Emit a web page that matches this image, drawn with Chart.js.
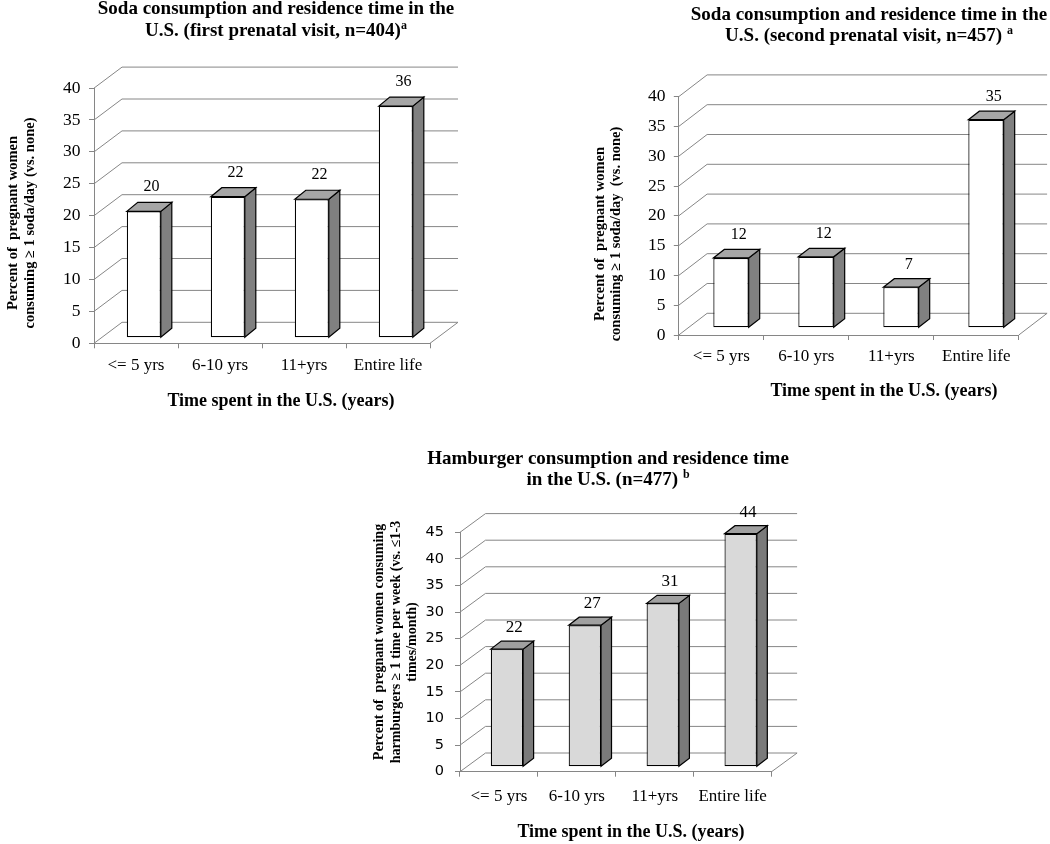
<!DOCTYPE html>
<html>
<head>
<meta charset="utf-8">
<script src="https://cdn.jsdelivr.net/npm/chart.js@4/dist/chart.umd.min.js"></script>
<style>
  html, body { margin: 0; padding: 0; background: #fff; overflow: hidden; width: 1050px; height: 844px; }
  canvas { position: absolute; }
</style>
</head>
<body>
<canvas id="c1" width="480" height="420" style="left:0px;top:0px;width:480px;height:420px"></canvas>
<canvas id="c2" width="470" height="410" style="left:580px;top:0px;width:470px;height:410px"></canvas>
<canvas id="c3" width="460" height="404" style="left:360px;top:440px;width:460px;height:404px"></canvas>
<script>
// ---------- data ----------
const CATEGORIES = ['<= 5 yrs', '6-10 yrs', '11+yrs', 'Entire life'];
const SODA_FIRST_VISIT = [19.8, 22.1, 21.7, 36.3];
const SODA_SECOND_VISIT = [11.7, 11.9, 6.8, 34.9];
const HAMBURGER = [22.1, 26.6, 30.7, 43.8];
const Y_MAX_SODA = 40;
const Y_MAX_HAMBURGER = 45;
const Y_STEP = 5;

const TITLE_1 = ['Soda consumption and residence time in the', 'U.S. (first prenatal visit, n=404)'];
const TITLE_1_SUP = 'a';
const TITLE_2 = ['Soda consumption and residence time in the', 'U.S. (second prenatal visit, n=457) '];
const TITLE_2_SUP = 'a';
const TITLE_3 = ['Hamburger consumption and residence time', 'in the U.S. (n=477) '];
const TITLE_3_SUP = 'b';
const Y_TITLE_1 = ['Percent of  pregnant women', 'consuming \u2265 1 soda/day (vs. none)'];
const Y_TITLE_2 = ['Percent of  pregnant women', 'consuming \u2265 1 soda/day  (vs. none)'];
const Y_TITLE_3 = ['Percent of  pregnant women consuming', 'harmburgers \u2265 1 time per week (vs. \u22641-3', 'times/month)'];
const X_TITLE = 'Time spent in the U.S. (years)';

// ---------- styles ----------
const SERIF = '"Liberation Serif", "Times New Roman", serif';
const SANS = '"DejaVu Sans", Verdana, sans-serif';
const GRID = '#868686';

// 3D walls, bar side/top faces and value labels
const threeD = {
  id: 'threeD',
  beforeDatasetsDraw(chart, args, o) {
    const { ctx, chartArea: a, scales: { y } } = chart;
    ctx.save();
    ctx.strokeStyle = GRID;
    ctx.lineWidth = 1;
    ctx.beginPath();
    y.ticks.forEach(t => {
      const py = y.getPixelForValue(t.value);
      ctx.moveTo(a.left, py);
      ctx.lineTo(a.left + o.wallDx, py + o.wallDy);
      ctx.lineTo(a.right + o.wallDx, py + o.wallDy);
    });
    const y0 = y.getPixelForValue(0);
    ctx.moveTo(a.right, y0);
    ctx.lineTo(a.right + o.wallDx, y0 + o.wallDy);
    ctx.stroke();
    ctx.restore();
    ctx.save();
    ctx.translate(o.barDx, o.barDy);
  },
  afterDatasetsDraw(chart, args, o) {
    const { ctx } = chart;
    const meta = chart.getDatasetMeta(0);
    const values = chart.data.datasets[0].data;
    meta.data.forEach((bar, i) => {
      const { x, y, base, width } = bar.getProps(['x', 'y', 'base', 'width'], true);
      const L = x - width / 2, R = x + width / 2;
      ctx.lineWidth = 1.2;
      ctx.strokeStyle = '#000';
      // side face
      ctx.beginPath();
      ctx.moveTo(R, y);
      ctx.lineTo(R + o.depthX, y + o.depthY);
      ctx.lineTo(R + o.depthX, base + o.depthY);
      ctx.lineTo(R, base);
      ctx.closePath();
      ctx.fillStyle = o.sideColor;
      ctx.fill();
      ctx.stroke();
      // top face
      ctx.beginPath();
      ctx.moveTo(L, y);
      ctx.lineTo(L + o.depthX, y + o.depthY);
      ctx.lineTo(R + o.depthX, y + o.depthY);
      ctx.lineTo(R, y);
      ctx.closePath();
      ctx.fillStyle = o.topColor;
      ctx.fill();
      ctx.stroke();
      // value label
      ctx.fillStyle = '#000';
      ctx.font = o.labelFont;
      ctx.textAlign = 'center';
      ctx.textBaseline = 'alphabetic';
      ctx.fillText(String(Math.round(values[i])), x + o.depthX * 0.7, y + o.depthY - o.labelGap);
    });
    ctx.restore();
  }
};

// chart title, axis titles
const texts = {
  id: 'texts',
  afterDraw(chart, args, o) {
    const ctx = chart.ctx;
    ctx.save();
    ctx.fillStyle = '#000';
    ctx.textBaseline = 'alphabetic';
    // plot title
    const t = o.title;
    t.lines.forEach((line, i) => {
      const mainFont = `bold ${t.size}px ${SERIF}`;
      const supFont = `bold ${t.supSize}px ${SERIF}`;
      ctx.font = mainFont;
      const w = ctx.measureText(line).width;
      const last = i === t.lines.length - 1 && t.sup;
      let sw = 0;
      if (last) { ctx.font = supFont; sw = ctx.measureText(t.sup).width; }
      const start = t.x - (w + sw) / 2;
      ctx.textAlign = 'left';
      ctx.font = mainFont;
      ctx.fillText(line, start, t.y[i]);
      if (last) { ctx.font = supFont; ctx.fillText(t.sup, start + w, t.y[i] - t.supRaise); }
    });
    // y title (rotated)
    const yt = o.yTitle;
    ctx.font = `bold ${yt.size}px ${SERIF}`;
    ctx.textAlign = 'center';
    yt.lines.forEach((line, i) => {
      ctx.save();
      ctx.translate(yt.x[i], yt.cy);
      ctx.rotate(-Math.PI / 2);
      ctx.fillText(line, 0, 0);
      ctx.restore();
    });
    // x title
    const xt = o.xTitle;
    ctx.font = `bold ${xt.size}px ${SERIF}`;
    ctx.textAlign = 'center';
    ctx.fillText(xt.text, xt.x, xt.y);
    ctx.restore();
  }
};

function makeChart(id, c) {
  return new Chart(document.getElementById(id), {
    type: 'bar',
    data: {
      labels: CATEGORIES,
      datasets: [{
        data: c.values,
        backgroundColor: c.front,
        borderColor: '#000',
        borderWidth: 1.2,
        borderSkipped: false,
        barPercentage: c.barPct,
        categoryPercentage: 1
      }]
    },
    options: {
      responsive: false,
      animation: false,
      events: [],
      layout: { padding: c.padding },
      scales: {
        x: {
          offset: true,
          grid: { display: true, offset: true, drawOnChartArea: false, drawTicks: true, tickLength: 5, color: GRID },
          border: { display: true, color: GRID, width: 1 },
          ticks: { color: '#000', font: c.xFont, padding: c.xPad, maxRotation: 0, autoSkip: false },
          afterFit: s => { s.height = 40; }
        },
        y: {
          min: 0,
          max: c.max,
          ticks: { stepSize: Y_STEP, color: '#000', font: c.yFont, padding: c.yPad },
          grid: { display: true, drawOnChartArea: false, drawTicks: true, tickLength: 5, color: GRID },
          border: { display: true, color: GRID, width: 1 },
          afterFit: s => { s.width = c.axisX; }
        }
      },
      plugins: {
        legend: { display: false },
        tooltip: { enabled: false },
        threeD: c.threeD,
        texts: c.texts
      }
    },
    plugins: [threeD, texts]
  });
}

// Chart 1: first prenatal visit
makeChart('c1', {
  values: SODA_FIRST_VISIT, max: Y_MAX_SODA, front: '#ffffff', barPct: 0.405,
  axisX: 94,
  padding: { left: 0, top: 88.1, right: 50, bottom: 36.7 },
  xFont: { family: SERIF, size: 17, lineHeight: 1.2 }, xPad: 7,
  yFont: { family: SERIF, size: 17.5, lineHeight: 1.2 }, yPad: 8.5,
  threeD: { wallDx: 28, wallDy: -21, barDx: 7.8, barDy: -5.6, depthX: 11, depthY: -9,
            sideColor: '#808080', topColor: '#a6a6a6', labelFont: `16px ${SERIF}`, labelGap: 11 },
  texts: {
    title: { lines: TITLE_1, sup: TITLE_1_SUP, size: 19, supSize: 12, supRaise: 7, x: 276, y: [14, 35.7] },
    yTitle: { lines: Y_TITLE_1, size: 14.5, x: [17, 33.5], cy: 223 },
    xTitle: { text: X_TITLE, size: 18, x: 281, y: 406 }
  }
});

// Chart 2: second prenatal visit
makeChart('c2', {
  values: SODA_SECOND_VISIT, max: Y_MAX_SODA, front: '#ffffff', barPct: 0.416,
  axisX: 98.8,
  padding: { left: 0, top: 96.6, right: 31.2, bottom: 35 },
  xFont: { family: SERIF, size: 17, lineHeight: 1.2 }, xPad: 6,
  yFont: { family: SERIF, size: 17.5, lineHeight: 1.2 }, yPad: 8.3,
  threeD: { wallDx: 28.3, wallDy: -21.7, barDx: 9.7, barDy: -7.3, depthX: 11, depthY: -8.5,
            sideColor: '#808080', topColor: '#a6a6a6', labelFont: `16px ${SERIF}`, labelGap: 10 },
  texts: {
    title: { lines: TITLE_2, sup: TITLE_2_SUP, size: 19, supSize: 12, supRaise: 7, x: 289, y: [19.5, 41] },
    yTitle: { lines: Y_TITLE_2, size: 14.5, x: [24, 40], cy: 234 },
    xTitle: { text: X_TITLE, size: 18, x: 304, y: 396 }
  }
});

// Chart 3: hamburger
makeChart('c3', {
  values: HAMBURGER, max: Y_MAX_HAMBURGER, front: '#d9d9d9', barPct: 0.415,
  axisX: 100,
  padding: { left: 0, top: 92.3, right: 48.4, bottom: 32.3 },
  xFont: { family: SERIF, size: 17, lineHeight: 1.2 }, xPad: 10,
  yFont: { family: SANS, size: 14.5, lineHeight: 1.2 }, yPad: 11,
  threeD: { wallDx: 25.5, wallDy: -18.7, barDx: 8, barDy: -5, depthX: 10.5, depthY: -8,
            sideColor: '#7a7a7a', topColor: '#a0a0a0', labelFont: `17px ${SERIF}`, labelGap: 9 },
  texts: {
    title: { lines: TITLE_3, sup: TITLE_3_SUP, size: 19, supSize: 12, supRaise: 7, x: 248, y: [24, 45] },
    yTitle: { lines: Y_TITLE_3, size: 14, x: [23, 39.5, 56], cy: 202 },
    xTitle: { text: X_TITLE, size: 18, x: 271, y: 397 }
  }
});
</script>
</body>
</html>
